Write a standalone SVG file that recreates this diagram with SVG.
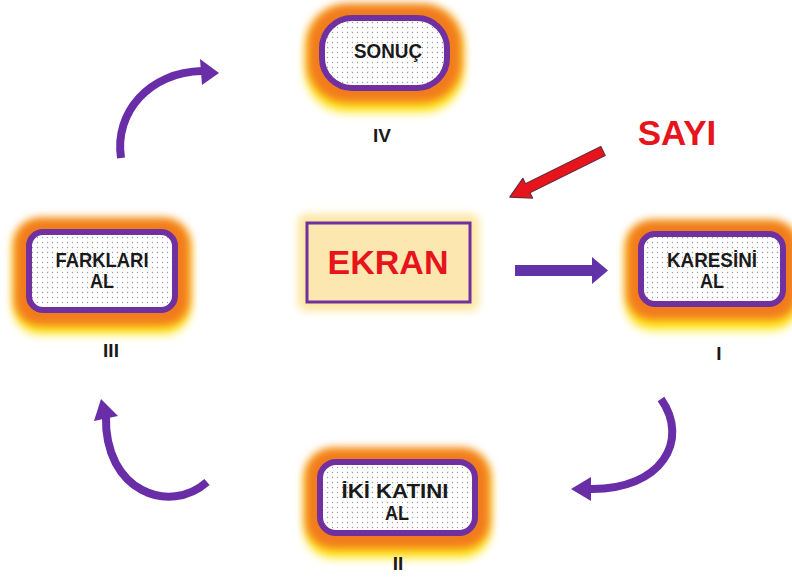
<svg xmlns="http://www.w3.org/2000/svg" width="792" height="578" viewBox="0 0 792 578">
<defs>
  <pattern id="dots" width="5" height="5" patternUnits="userSpaceOnUse">
    <rect width="5" height="5" fill="#ffffff"/>
    <circle cx="2.5" cy="2.5" r="0.7" fill="#9a9a9a"/>
  </pattern>
  <filter id="blur" x="-30%" y="-30%" width="160%" height="160%">
    <feGaussianBlur stdDeviation="5"/>
  </filter>
  <filter id="blur2" x="-30%" y="-30%" width="160%" height="160%">
    <feGaussianBlur stdDeviation="4"/>
  </filter>
</defs>
<style>
  .box { fill: url(#dots); stroke: #7030A0; stroke-width: 6; }
  .glowY { fill: #FFE619; filter: url(#blur); }
  .glowO { fill: #F27B1E; filter: url(#blur2); }
  .lbl { font-family: "Liberation Sans", Arial, sans-serif; font-weight: bold; font-size: 20px; fill: #1a1a1a; text-anchor: middle; }
  .num { font-family: "Liberation Sans", Arial, sans-serif; font-weight: bold; font-size: 19px; fill: #1a1a1a; text-anchor: middle; }
  .arc { fill: none; stroke: #6A2DA8; stroke-width: 8; stroke-linecap: butt; }
  .head { fill: #6A2DA8; }
</style>
<rect width="792" height="578" fill="#ffffff"/>

<g id="connectors">
  <!-- top-left curved arrow: III -> IV -->
  <path class="arc" d="M 121 158 C 114 112 150 72 202 71"/>
  <polygon class="head" points="219,73 200,59 202,85"/>
  <!-- bottom-left curved arrow: II -> III -->
  <path class="arc" d="M 207 482 C 170 515 104 492 106 416"/>
  <polygon class="head" points="101,399 94,421 118,416"/>
  <!-- bottom-right curved arrow: I -> II -->
  <path class="arc" d="M 661 399 C 690 440 662 490 590 489"/>
  <polygon class="head" points="571,489 591,477 591,501"/>
  <!-- EKRAN -> KARESINI -->
  <rect x="515" y="265" width="79" height="11" fill="#6232A8"/>
  <polygon points="592,257 608,270.5 592,284" fill="#6232A8"/>
  <!-- SAYI red arrow -->
  <g transform="translate(603,151) rotate(153.7)">
    <polygon points="0,-5 84,-5 84,-11 104,0 84,11 84,5 0,5" fill="#E8141C" stroke="#6b2a3a" stroke-width="1.2" stroke-linejoin="round"/>
  </g>
</g>

<g id="node-sonuc">
  <rect class="glowY" x="306" y="8" width="157" height="104" rx="40"/>
  <rect class="glowO" x="307" y="4" width="155" height="99" rx="40"/>
  <rect class="box" x="322" y="18" width="125" height="70" rx="30"/>
  <text class="lbl" x="388" y="58" textLength="68" lengthAdjust="spacingAndGlyphs">SONUÇ</text>
</g>
<text class="num" x="382" y="142">IV</text>

<g id="node-farklari">
  <rect class="glowY" x="14" y="222" width="176" height="112" rx="26"/>
  <rect class="glowO" x="14" y="218" width="176" height="108" rx="26"/>
  <rect class="box" x="29" y="232" width="146" height="78" rx="14"/>
  <text class="lbl" x="102" y="267" textLength="93" lengthAdjust="spacingAndGlyphs">FARKLARI</text>
  <text class="lbl" x="102" y="288" textLength="24" lengthAdjust="spacingAndGlyphs">AL</text>
</g>
<text class="num" x="111" y="357">III</text>

<g id="node-ekran">
  <rect x="298" y="214" width="181" height="97" rx="8" fill="#FCE6A0" filter="url(#blur2)"/>
  <rect x="307" y="223" width="163" height="79" fill="#FDE7B0" stroke="#7030A0" stroke-width="3"/>
  <text x="388" y="274" font-family="Liberation Sans, Arial, sans-serif" font-weight="bold" font-size="34" fill="#E8141C" text-anchor="middle">EKRAN</text>
</g>

<g id="node-sayi">
  <text x="677" y="145" font-family="Liberation Sans, Arial, sans-serif" font-weight="bold" font-size="35" fill="#E8141C" text-anchor="middle">SAYI</text>
</g>

<g id="node-karesini">
  <rect class="glowY" x="626" y="224" width="172" height="106" rx="26"/>
  <rect class="glowO" x="626" y="220" width="172" height="100" rx="26"/>
  <rect class="box" x="641" y="234" width="142" height="70" rx="14"/>
  <text class="lbl" x="712" y="267" textLength="90" lengthAdjust="spacingAndGlyphs">KARESİNİ</text>
  <text class="lbl" x="712" y="288" textLength="24" lengthAdjust="spacingAndGlyphs">AL</text>
</g>
<text class="num" x="719" y="360">I</text>

<g id="node-ikikatini">
  <rect class="glowY" x="305" y="452" width="185" height="106" rx="28"/>
  <rect class="glowO" x="305" y="448" width="185" height="101" rx="28"/>
  <rect class="box" x="320" y="462" width="155" height="71" rx="16"/>
  <text class="lbl" x="395" y="498" textLength="107" lengthAdjust="spacingAndGlyphs">İKİ KATINI</text>
  <text class="lbl" x="397" y="520" textLength="24" lengthAdjust="spacingAndGlyphs">AL</text>
</g>
<text class="num" x="398" y="570">II</text>
</svg>
